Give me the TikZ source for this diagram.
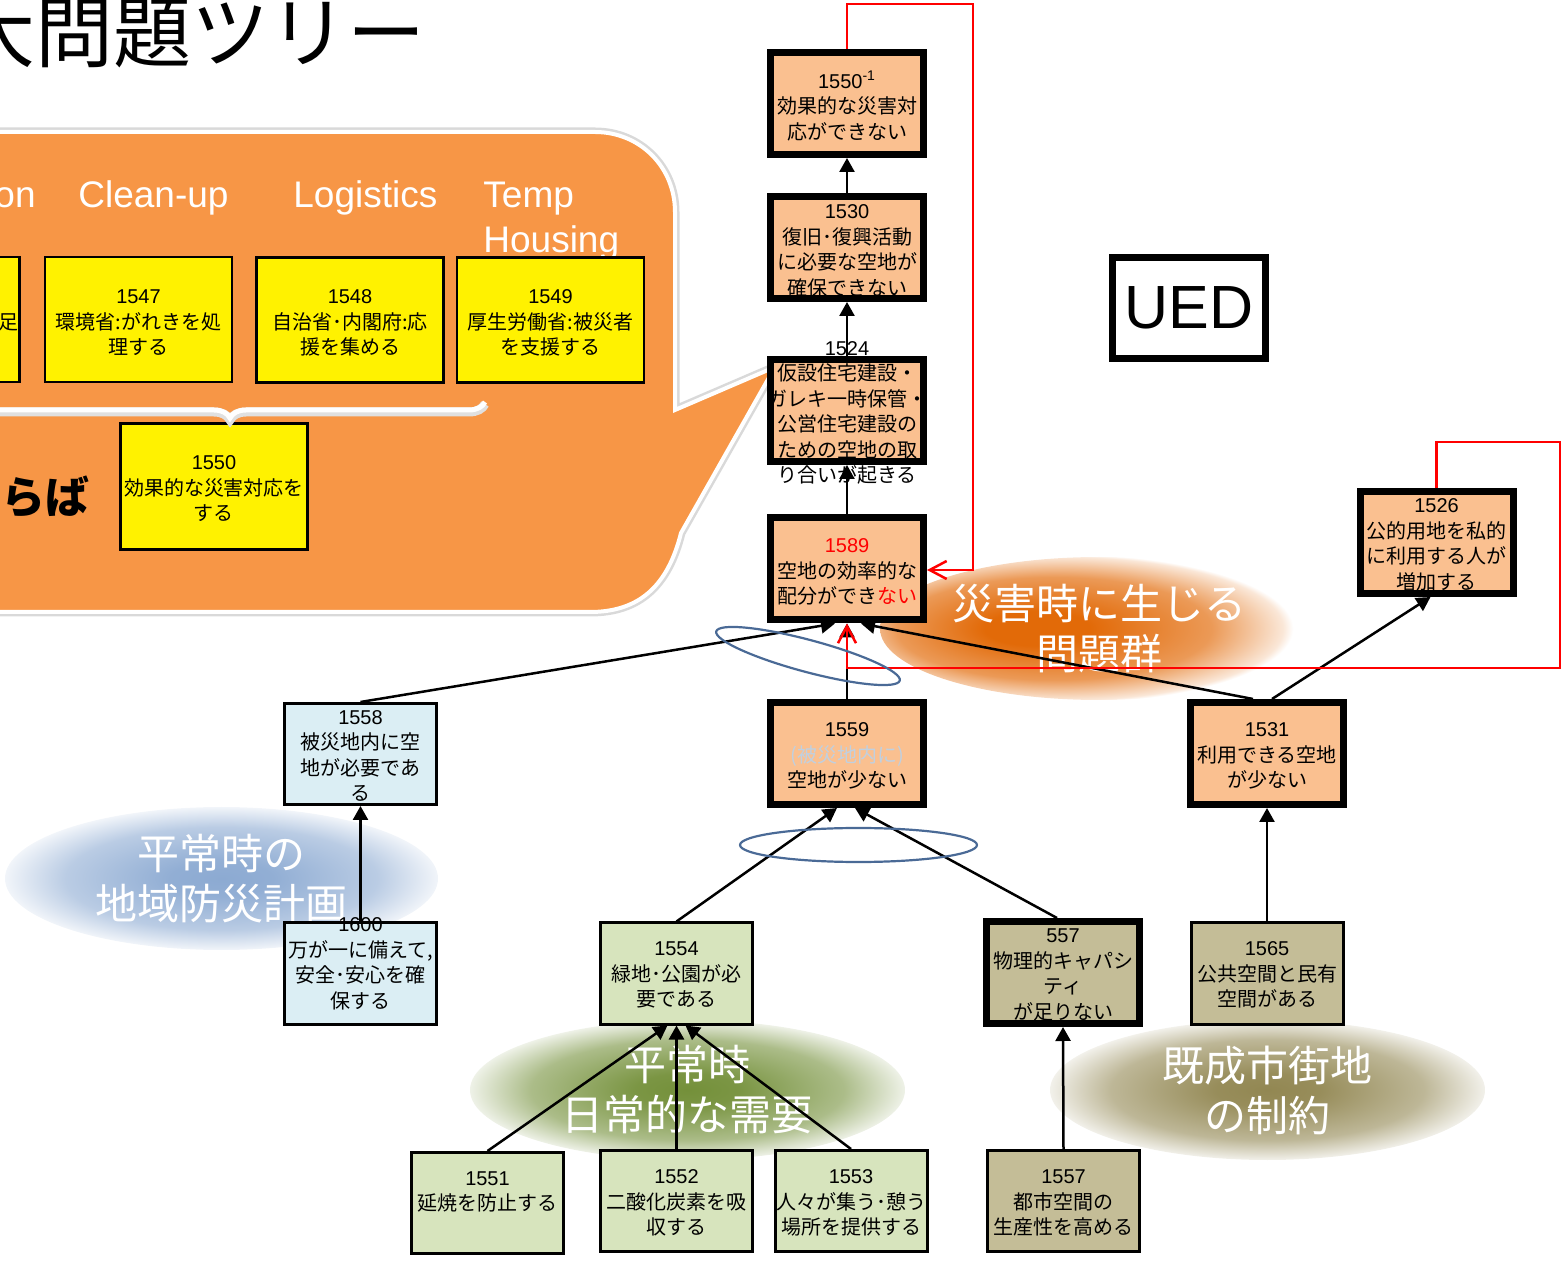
\documentclass[tikz,border=0pt]{standalone}
\usepackage{fontspec}
\setmainfont{Liberation Sans}
\newfontfamily\jp{Noto Sans CJK JP}
\usetikzlibrary{arrows.meta,decorations.pathreplacing,shapes.geometric}
\definecolor{peach}{RGB}{250,192,144}
\definecolor{calloutor}{RGB}{247,150,70}
\definecolor{lblue}{RGB}{219,238,244}
\definecolor{lgreen}{RGB}{215,228,189}
\definecolor{khaki}{RGB}{196,189,151}
\definecolor{ringblue}{RGB}{74,106,150}
\definecolor{ghost}{RGB}{192,208,224}
\definecolor{blobor}{RGB}{226,106,8}
\definecolor{blobbl}{RGB}{140,170,210}
\definecolor{blobgr}{RGB}{116,144,58}
\definecolor{blobkh}{RGB}{146,135,82}
\pgfdeclareradialshading{shadeOr}{\pgfpoint{-8bp}{0bp}}{color(0bp)=(blobor); color(6bp)=(blobor); color(18bp)=(blobor!68!white); color(25bp)=(blobor!16!white); color(26bp)=(white); color(50bp)=(white)}
\pgfdeclareradialshading{shadeBl}{\pgfpoint{0bp}{0bp}}{color(0bp)=(blobbl); color(6bp)=(blobbl!95!white); color(18bp)=(blobbl!60!white); color(25bp)=(blobbl!12!white); color(26bp)=(white); color(50bp)=(white)}
\pgfdeclareradialshading{shadeGr}{\pgfpoint{0bp}{0bp}}{color(0bp)=(blobgr); color(6bp)=(blobgr!95!white); color(18bp)=(blobgr!60!white); color(25bp)=(blobgr!12!white); color(26bp)=(white); color(50bp)=(white)}
\pgfdeclareradialshading{shadeKh}{\pgfpoint{0bp}{0bp}}{color(0bp)=(blobkh); color(6bp)=(blobkh!95!white); color(18bp)=(blobkh!60!white); color(25bp)=(blobkh!12!white); color(26bp)=(white); color(50bp)=(white)}
\newcommand\idn[1]{{\rmfamily #1}}
\begin{document}
\begin{tikzpicture}[x=0.5pt,y=-0.5pt,
  jpt/.style={font=\jp\fontsize{10}{12.75}\selectfont, align=center, inner sep=0pt},
  bigbox/.style={draw=black, line width=3.5pt, fill=peach, minimum width=76.5pt, minimum height=51pt, inner sep=0pt},
  thinbox/.style={draw=black, line width=1.5pt, minimum width=76pt, minimum height=50.5pt, inner sep=0pt},
  ybox/.style={draw=black, line width=1.25pt, fill=yellow, minimum width=93.5pt, minimum height=62.5pt, inner sep=0pt},
  conn/.style={line width=1.25pt, -{Triangle[length=7pt,width=7.5pt]}},
  redconn/.style={draw=red, line width=1.25pt, -{Straight Barb[length=8.5pt,width=9pt]}},
  blob/.style={ellipse, shade, inner sep=0pt, font=\jp\fontsize{21}{25}\selectfont, text=white, align=center},
  ring/.style={draw=ringblue, line width=1.1pt, ellipse, inner sep=0pt},
  head/.style={font=\fontsize{18.5}{20}\selectfont, text=white, inner sep=0pt},
]
\useasboundingbox (0,0) rectangle (1565,1261);

% title
\node[anchor=base west, inner sep=0pt, font=\jp\fontsize{39}{39}\selectfont] (title) at (-43,62) {大問題ツリー};

% callout
\path[preaction={draw=black!15, line width=4.5pt}, fill=calloutor, draw=white, line width=2pt]
  (-30,132) -- (595,132) .. controls (640,132) and (675,167) .. (675,212)
  -- (675,410) -- (775,367) -- (681,533) .. controls (668,585) and (640,612) .. (590,612)
  -- (-30,612) -- cycle;

\node[head, anchor=base east] (hOn) at (36,208) {on};
\node[head, anchor=base west] (hClean) at (78,208) {Clean-up};
\node[head, anchor=base west] (hLog) at (293,208) {Logistics};
\node[head, anchor=base west] (hTemp) at (483,208) {Temp};
\node[head, anchor=base west] (hHous) at (483,253) {Housing};

\node[ybox] (y1546) at (-74,319.5) {};
\node[ybox] (y1547) at (138.5,319.5) {};
\node[ybox] (y1548) at (350,320) {};
\node[ybox] (y1549) at (550.5,320) {};
\node[ybox, minimum height=63pt] (y1550) at (214,486.5) {};
\node[jpt, anchor=east] (t1546) at (19,322) {足};
\node[jpt] (t1547) at (138.5,323) {\idn{1547}\\環境省:がれきを処\\理する};
\node[jpt] (t1548) at (350,323) {\idn{1548}\\自治省･内閣府:応\\援を集める};
\node[jpt] (t1549) at (550.5,323) {\idn{1549}\\厚生労働省:被災者\\を支援する};
\node[jpt] (t1550) at (214,489) {\idn{1550}\\効果的な災害対応を\\する};

\coordinate (brL) at (-25,402);
\coordinate (brR) at (485,402);
\draw[black!12, line width=4.5pt, decorate, decoration={brace, mirror, amplitude=8pt}] ([yshift=-1pt]brL) -- ([yshift=-1pt]brR);
\draw[white, line width=2.5pt, decorate, decoration={brace, mirror, amplitude=8pt}] (brL) -- (brR);

\node[anchor=east, inner sep=0pt, font=\jp\bfseries\fontsize{22}{22}\selectfont] (raba) at (90,497) {らば};

% UED
\node[draw=black, line width=3.5pt, fill=white, minimum width=76.5pt, minimum height=50.5pt, inner sep=0pt, font=\fontsize{30.5}{30.5}\selectfont] (ued) at (1189,308) {UED};

% blobs
\node[blob, shading=shadeOr, minimum width=219pt, minimum height=71.5pt] (bOr) at (1099,628.5) {災害時に生じる\\問題群};
\node[blob, shading=shadeBl, minimum width=216.5pt, minimum height=71.5pt] (bBl) at (221.5,878.5) {平常時の\\地域防災計画};
\node[blob, shading=shadeGr, minimum width=217.5pt, minimum height=70pt] (bGr) at (687.5,1090) {平常時\\日常的な需要};
\node[blob, shading=shadeKh, minimum width=217.5pt, minimum height=70pt] (bKh) at (1267.5,1090) {既成市街地\\の制約};

% boxes
\node[bigbox] (n1550i) at (847,103.5) {};
\node[bigbox] (n1530) at (847,247.5) {};
\node[bigbox] (n1524) at (847,410.5) {};
\node[bigbox] (n1589) at (847,569) {};
\node[bigbox] (n1559) at (847,753.5) {};
\node[bigbox] (n1531) at (1267,753.5) {};
\node[bigbox] (n1526) at (1436.5,542.5) {};
\node[bigbox, fill=khaki] (n557) at (1063,972.5) {};
\node[thinbox, fill=lblue] (n1558) at (360.5,754) {};
\node[thinbox, fill=lblue] (n1600) at (360.5,973.5) {};
\node[thinbox, fill=lgreen] (n1554) at (676.5,973.5) {};
\node[thinbox, fill=lgreen] (n1551) at (487.5,1203) {};
\node[thinbox, fill=lgreen] (n1552) at (676.5,1201) {};
\node[thinbox, fill=lgreen] (n1553) at (851,1201) {};
\node[thinbox, fill=khaki] (n1565) at (1267,973.5) {};
\node[thinbox, fill=khaki] (n1557) at (1063.5,1201) {};

% texts
\node[jpt] (t1550i) at (847,106) {\idn{1550\textsuperscript{-1}}\\効果的な災害対\\応ができない};
\node[jpt] (t1530) at (847,251) {\idn{1530}\\復旧･復興活動\\に必要な空地が\\確保できない};
\node[jpt] (t1524) at (847,413) {\idn{1524}\\仮設住宅建設・\\ガレキ一時保管・\\公営住宅建設の\\ための空地の取\\り合いが起きる};
\node[jpt] (t1589) at (847,572) {\textcolor{red}{\idn{1589}}\\空地の効率的な\\配分ができ\textcolor{red}{ない}};
\node[jpt] (t1559) at (847,756) {\idn{1559}\\\textcolor{ghost}{(被災地内に)}\\空地が少ない};
\node[jpt] (t1531) at (1267,756) {\idn{1531}\\利用できる空地\\が少ない};
\node[jpt] (t1526) at (1436.5,545) {\idn{1526}\\公的用地を私的\\に利用する人が\\増加する};
\node[jpt] (t557) at (1063,975) {\idn{557}\\物理的キャパシ\\ティ\\が足りない};
\node[jpt] (t1558) at (360.5,756) {\idn{1558}\\被災地内に空\\地が必要であ\\る};
\node[jpt] (t1600) at (360.5,964) {\idn{1600}\\万が一に備えて,\\安全･安心を確\\保する};
\node[jpt] (t1554) at (676.5,975) {\idn{1554}\\緑地･公園が必\\要である};
\node[jpt] (t1551) at (487.5,1192) {\idn{1551}\\延焼を防止する};
\node[jpt] (t1552) at (676.5,1203) {\idn{1552}\\二酸化炭素を吸\\収する};
\node[jpt] (t1553) at (851,1203) {\idn{1553}\\人々が集う･憩う\\場所を提供する};
\node[jpt] (t1565) at (1267,975) {\idn{1565}\\公共空間と民有\\空間がある};
\node[jpt] (t1557) at (1063.5,1203) {\idn{1557}\\都市空間の\\生産性を高める};

% connectors
\draw[conn] (n1530.north) -- (n1550i.south);
\draw[conn] (n1524.north) -- (n1530.south);
\draw[conn] (n1589.north) -- (n1524.south);
\draw[conn] (n1559.north) -- (n1589.south);
\draw[conn] (n1558.north) -- ([xshift=-6pt]n1589.south);
\draw[conn] ([xshift=-7pt]n1531.north) -- ([xshift=7pt]n1589.south);
\draw[conn] ([xshift=2.5pt]n1531.north) -- ([xshift=-3pt]n1526.south);
\draw[conn] (n1600.north) -- (n1558.south);
\draw[conn] (n1554.north) -- ([xshift=-5pt]n1559.south);
\draw[conn] ([xshift=-3pt]n557.north) -- ([xshift=4pt]n1559.south);
\draw[conn] (n1565.north) -- (n1531.south);
\draw[conn] (n1551.north) -- ([xshift=-4.5pt]n1554.south);
\draw[conn] (n1552.north) -- (n1554.south);
\draw[conn] (n1553.north) -- ([xshift=4.5pt]n1554.south);
\draw[conn] (n1557.north) -- (n557.south);

\coordinate (rA) at (973,4);
\coordinate (rB) at (973,570);
\draw[redconn] (n1550i.north) |- (rA) -- (rB) -- (n1589.east |- rB);
\coordinate (rC) at (1560,442);
\coordinate (rD) at (1560,668);
\draw[redconn] (n1526.north) |- (rC) -- (rD) -| (n1589.south);

% rings
\node[ring, rotate=-15, minimum width=95pt, minimum height=16pt] (ring1) at (808,656) {};
\node[ring, minimum width=118.5pt, minimum height=17pt] (ring2) at (858.5,845) {};
\end{tikzpicture}
\end{document}
